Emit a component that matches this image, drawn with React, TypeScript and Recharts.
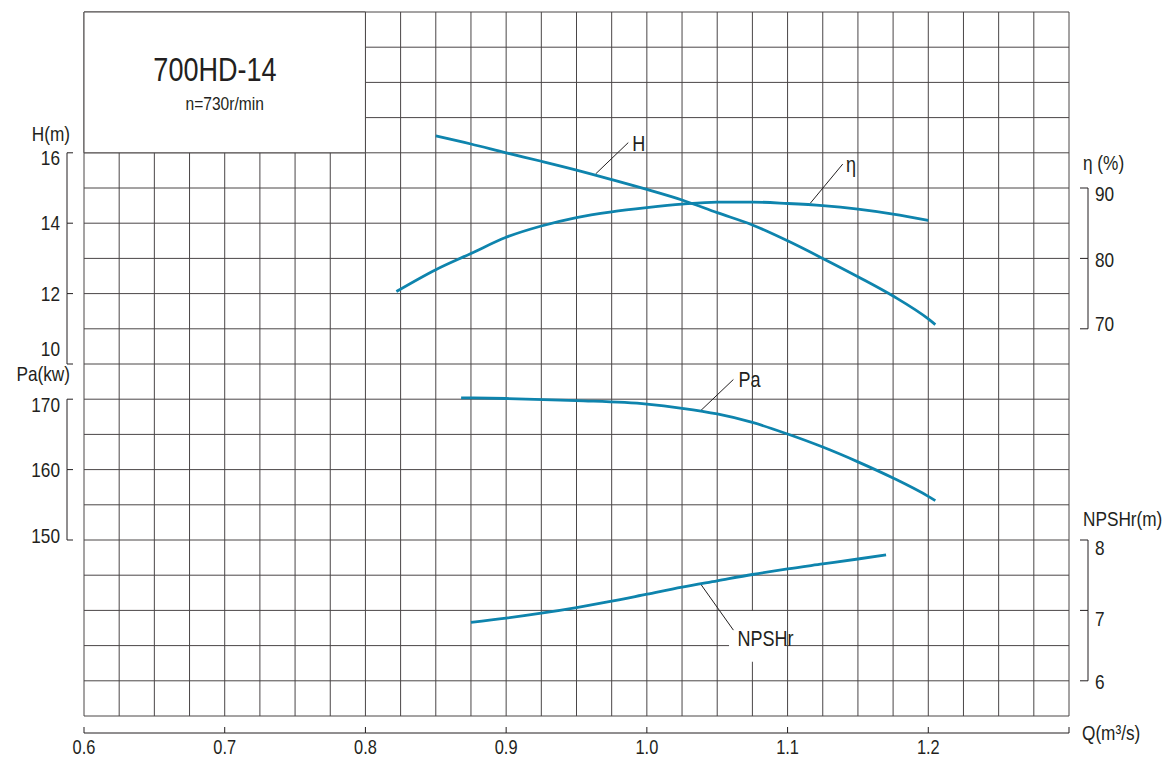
import { LineChart, Line, XAxis, YAxis, CartesianGrid, ReferenceArea, ReferenceLine, ReferenceDot } from 'recharts';

const FONT = '"Liberation Sans Narrow", "Liberation Sans", Arial, sans-serif';
const SQUEEZE = 0.82; // the sheet uses a narrow face
const INK = '#231f20';
const GRID = '#4a4647';
const CURVE = '#0e84ad';

const W = 1173;
const H = 758;
// each visible axis takes 1px, so the plot sits at x 84..1069, y 12..716
const MARGIN = { top: 12, right: 102, bottom: 41, left: 82 };
const PLOT_W = W - 84 - 104;
const PLOT_H = H - 12 - 42;
const ROW = PLOT_H / 20; // one grid row
const COL = PLOT_W / 7; // 0.1 m³/s

// H (m)
const headQ = [0.85, 0.875, 0.9, 0.925, 0.95, 0.975, 1.0, 1.025, 1.05, 1.075, 1.1, 1.125, 1.15, 1.175, 1.2, 1.205];
const headM = [16.48, 16.25, 16.0, 15.76, 15.51, 15.24, 14.96, 14.66, 14.3, 13.95, 13.5, 13.0, 12.48, 11.93, 11.28, 11.12];

// η (%)
const effQ = [0.822, 0.85, 0.875, 0.9, 0.925, 0.95, 0.975, 1.0, 1.025, 1.05, 1.075, 1.1, 1.125, 1.15, 1.175, 1.2];
const effPct = [75.3, 78.4, 80.7, 83.0, 84.6, 85.8, 86.6, 87.2, 87.7, 88.0, 88.0, 87.8, 87.5, 87.0, 86.3, 85.4];

// Pa (kw)
const powerQ = [0.868, 0.9, 0.95, 1.0, 1.025, 1.05, 1.075, 1.1, 1.125, 1.15, 1.175, 1.2, 1.205];
const powerKw = [170.2, 170.1, 169.8, 169.3, 168.7, 167.9, 166.7, 165.05, 163.2, 161.1, 158.8, 156.2, 155.6];

// NPSHr (m)
const npshQ = [0.875, 0.9, 0.925, 0.95, 0.975, 1.0, 1.025, 1.05, 1.075, 1.1, 1.125, 1.15, 1.17];
const npshM = [6.83, 6.89, 6.96, 7.04, 7.13, 7.23, 7.33, 7.42, 7.51, 7.59, 7.66, 7.73, 7.79];

const qTicks = [0.6, 0.7, 0.8, 0.9, 1.0, 1.1, 1.2, 1.3];
const headTicks = [10, 12, 14, 16];
const powerTicks = [150, 160, 170];
const effTicks = [70, 80, 90];
const npshTicks = [6, 7, 8];

const gridQ = Array.from({ length: 29 }, (_, i) => 0.6 + i * 0.025);
const gridRows = Array.from({ length: 21 }, (_, i) => i);

// curve name, axis, leader start, leader end, text centre
const notes = [
  { text: 'H', axis: 'H', from: [0.9636, 15.4], to: [0.9868, 16.29], at: [0.9942, 16.26] },
  { text: 'η', axis: 'E', from: [1.116, 87.8], to: [1.1392, 93.4], at: [1.1451, 93.4] },
  { text: 'Pa', axis: 'P', from: [1.0384, 168.4], to: [1.0615, 172.8], at: [1.073, 172.8] },
  { text: 'NPSHr', axis: 'N', from: [1.0384, 7.37], to: [1.0615, 6.72], at: [1.0843, 6.6] },
];

const pairs = (xs: number[], ys: number[]) => xs.map((q, i) => ({ q, v: ys[i] }));
const headData = pairs(headQ, headM);
const effData = pairs(effQ, effPct);
const powerData = pairs(powerQ, powerKw);
const npshData = pairs(npshQ, npshM);

function NText({ x, y, size, anchor = 'start', children }: any) {
  return (
    <g transform={`translate(${x},${y}) scale(${SQUEEZE},1)`}>
      <text x={0} y={0} fontSize={size} textAnchor={anchor} fill={INK} fontFamily={FONT}>
        {children}
      </text>
    </g>
  );
}

// label centred on a ReferenceDot
function DotText(props: any) {
  const vb = props.viewBox || {};
  const cx = (vb.x ?? 0) + (vb.width ?? 0) / 2;
  const cy = (vb.y ?? 0) + (vb.height ?? 0) / 2;
  return (
    <NText x={cx} y={cy + 0.355 * props.size} size={props.size} anchor="middle">
      {props.text}
    </NText>
  );
}

type AxisCfg = {
  side: 'left' | 'right';
  title: string;
  titleDy: number;
  top: number;
  shift: Record<number, number>;
};

function makeYTick(cfg: AxisCfg) {
  return (props: any) => {
    const { y, payload, index } = props;
    const v = payload.value as number;
    const left = cfg.side === 'left';
    const x = left ? 84 : 84 + PLOT_W;
    const bx = left ? x - 17 : x + 19;
    const tx = left ? bx + 6 : bx - 8;
    const lx = left ? x - 24 : x + 26;
    return (
      <g key={`${cfg.title}-${index}`}>
        <line x1={bx} y1={y} x2={tx} y2={y} stroke={INK} strokeWidth={1} />
        {v !== cfg.top && <line x1={bx} y1={y} x2={bx} y2={y - 2 * ROW} stroke={INK} strokeWidth={1} />}
        <NText x={lx} y={y + 7 + (cfg.shift[v] ?? 0)} size={21} anchor={left ? 'end' : 'start'}>
          {v}
        </NText>
        {v === cfg.top && (
          <NText x={left ? x - 14 : x + 14} y={y + cfg.titleDy} size={21} anchor={left ? 'end' : 'start'}>
            {cfg.title}
          </NText>
        )}
      </g>
    );
  };
}

const headTick = makeYTick({ side: 'left', title: 'H(m)', titleDy: -12, top: 16, shift: { 16: 5, 10: -15 } });
const powerTick = makeYTick({ side: 'left', title: 'Pa(kw)', titleDy: -18, top: 170, shift: { 170: 6, 150: -4 } });
const effTick = makeYTick({ side: 'right', title: 'η (%)', titleDy: -18, top: 90, shift: { 90: 6, 80: 2, 70: -5 } });
const npshTick = makeYTick({ side: 'right', title: 'NPSHr(m)', titleDy: -14, top: 8, shift: { 8: 8, 7: 9, 6: 1 } });

function QTick(props: any) {
  const { x, payload, index } = props;
  const y = 12 + PLOT_H;
  const v = payload.value as number;
  const last = v === qTicks[qTicks.length - 1];
  return (
    <g key={`q-${index}`}>
      <line x1={x} y1={y + 11} x2={x} y2={y + 17} stroke={INK} strokeWidth={1} />
      {!last && <line x1={x} y1={y + 17} x2={x + COL} y2={y + 17} stroke={INK} strokeWidth={1} />}
      {!last && (
        <NText x={x} y={y + 38} size={20} anchor="middle">
          {v.toFixed(1)}
        </NText>
      )}
      {last && (
        <NText x={x + 13} y={y + 24} size={21}>
          Q(m³/s)
        </NText>
      )}
    </g>
  );
}

const isFn = (s: any) => typeof s === 'function';
const vGrid = ({ xAxis, offset }: any) =>
  gridQ.map((q) => (xAxis && isFn(xAxis.scale) ? xAxis.scale(q) : offset.left + ((q - 0.6) / 0.7) * offset.width));
const hGrid = ({ yAxis, offset }: any) =>
  gridRows.map((r) => (yAxis && isFn(yAxis.scale) ? yAxis.scale(r) : offset.top + offset.height - (r / 20) * offset.height));

const axisBase = {
  type: 'number' as const,
  interval: 0 as const,
  axisLine: false,
  tickLine: false,
  tickSize: 0,
  tickMargin: 0,
};

export default function App() {
  return (
    <div style={{ width: W, height: H, fontFamily: FONT }}>
      <style>{'body{margin:0}'}</style>
      <LineChart width={W} height={H} margin={MARGIN}>
        <CartesianGrid
          xAxisId="q"
          yAxisId="H"
          stroke={GRID}
          strokeWidth={1}
          verticalCoordinatesGenerator={vGrid}
          horizontalCoordinatesGenerator={hGrid}
        />

        <XAxis xAxisId="q" dataKey="q" domain={[0.6, 1.3]} ticks={qTicks} height={1} tick={QTick} {...axisBase} />
        <YAxis yAxisId="H" domain={[0, 20]} ticks={headTicks} width={1} orientation="left" tick={headTick} {...axisBase} />
        <YAxis yAxisId="P" domain={[125, 225]} ticks={powerTicks} width={1} orientation="left" tick={powerTick} {...axisBase} />
        <YAxis yAxisId="E" domain={[15, 115]} ticks={effTicks} width={1} orientation="right" tick={effTick} {...axisBase} />
        <YAxis yAxisId="N" domain={[5.5, 15.5]} ticks={npshTicks} width={1} orientation="right" tick={npshTick} {...axisBase} />

        <ReferenceArea xAxisId="q" yAxisId="H" x1={0.6} x2={0.8} y1={16} y2={20} fill="#fff" fillOpacity={1} stroke={GRID} strokeWidth={1} />
        <ReferenceArea xAxisId="q" yAxisId="N" x1={1.0584} x2={1.0985} y1={6.27} y2={6.99} fill="#fff" fillOpacity={1} stroke="none" />

        <ReferenceDot xAxisId="q" yAxisId="H" x={0.6931} y={18.38} r={0} fill="none" stroke="none"
          label={<DotText text="700HD-14" size={33} />} />
        <ReferenceDot xAxisId="q" yAxisId="H" x={0.7} y={17.41} r={0} fill="none" stroke="none"
          label={<DotText text="n=730r/min" size={19} />} />

        {notes.map((n) => (
          <ReferenceLine
            key={`l-${n.text}`}
            xAxisId="q"
            yAxisId={n.axis}
            segment={[{ x: n.from[0], y: n.from[1] }, { x: n.to[0], y: n.to[1] }]}
            stroke={INK}
            strokeWidth={1}
          />
        ))}
        {notes.map((n) => (
          <ReferenceDot
            key={`t-${n.text}`}
            xAxisId="q"
            yAxisId={n.axis}
            x={n.at[0]}
            y={n.at[1]}
            r={0}
            fill="none"
            stroke="none"
            label={<DotText text={n.text} size={22} />}
          />
        ))}

        <Line xAxisId="q" yAxisId="H" data={headData} dataKey="v" type="monotone" stroke={CURVE} strokeWidth={2.8} dot={false} isAnimationActive={false} />
        <Line xAxisId="q" yAxisId="E" data={effData} dataKey="v" type="monotone" stroke={CURVE} strokeWidth={2.8} dot={false} isAnimationActive={false} />
        <Line xAxisId="q" yAxisId="P" data={powerData} dataKey="v" type="monotone" stroke={CURVE} strokeWidth={2.8} dot={false} isAnimationActive={false} />
        <Line xAxisId="q" yAxisId="N" data={npshData} dataKey="v" type="monotone" stroke={CURVE} strokeWidth={2.8} dot={false} isAnimationActive={false} />
      </LineChart>
    </div>
  );
}
